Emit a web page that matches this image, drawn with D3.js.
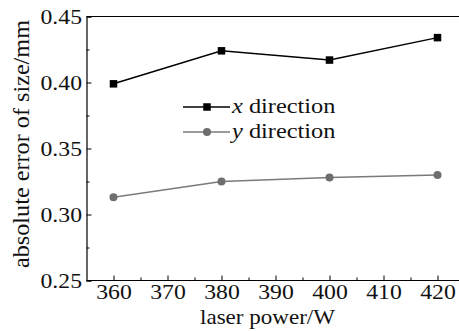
<!DOCTYPE html>
<html><head><meta charset="utf-8">
<script src="https://cdn.jsdelivr.net/npm/d3@7"></script>
<style>body{margin:0;background:#fff}</style>
</head><body><svg id="c" width="459" height="331" font-family="Liberation Serif"></svg>
<script>
const power = [360, 380, 400, 420];
const xDir = [0.399, 0.424, 0.417, 0.434];
const yDir = [0.313, 0.325, 0.328, 0.330];
const xTicks = [360, 370, 380, 390, 400, 410, 420];
const yTicks = [0.25, 0.30, 0.35, 0.40, 0.45];
const seriesNames = ["x", "y"];

const FF = "Liberation Serif";
const SX = 1.13;
const svg = d3.select("#c");
const L = 86.5, T = 16.5, B = 280.5;
const x = d3.scaleLinear().domain([355, 425]).range([L, L + 70 * 5.4]);
const y = d3.scaleLinear().domain([0.25, 0.45]).range([B, T]);

svg.append("line").attr("x1", L).attr("x2", 459).attr("y1", T).attr("y2", T).attr("stroke", "#000").attr("stroke-width", 1.2);

const xAxis = svg.append("g").attr("transform", `translate(0,${B})`)
  .call(d3.axisBottom(x).tickValues(xTicks).tickSize(-5).tickPadding(4).tickFormat(d3.format("d")));
xAxis.attr("font-family", FF).attr("font-size", 21);
xAxis.select(".domain").attr("d", `M${L},0H459`).attr("stroke-width", 1.2);
xAxis.selectAll("text").attr("font-family", FF).attr("font-size", 21).attr("fill", "#111")
  .attr("transform", `scale(${SX},1)`);
svg.append("g").attr("transform", `translate(0,${B})`)
  .call(d3.axisBottom(x).tickValues(d3.range(365, 425, 10)).tickSize(-3).tickFormat(""))
  .select(".domain").remove();

const yAxis = svg.append("g").attr("transform", `translate(${L},0)`)
  .call(d3.axisLeft(y).tickValues(yTicks).tickSize(-5).tickPadding(4).tickFormat(d3.format(".2f")));
yAxis.attr("font-family", FF).attr("font-size", 21);
yAxis.select(".domain").attr("stroke-width", 1.2);
yAxis.selectAll("text").attr("font-family", FF).attr("font-size", 21).attr("fill", "#111")
  .attr("x", -4.5 / SX).attr("transform", `scale(${SX},1)`);
svg.append("g").attr("transform", `translate(${L},0)`)
  .call(d3.axisLeft(y).tickValues([0.275, 0.325, 0.375, 0.425]).tickSize(-3).tickFormat(""))
  .select(".domain").remove();

svg.append("text").attr("x", 200).attr("y", 324)
  .attr("font-family", FF).attr("font-size", 22).attr("fill", "#111")
  .attr("textLength", 135).attr("lengthAdjust", "spacingAndGlyphs").text("laser power/W");
svg.append("text").attr("transform", "translate(29,268) rotate(-90)")
  .attr("font-family", FF).attr("font-size", 23).attr("fill", "#111")
  .attr("textLength", 248).attr("lengthAdjust", "spacingAndGlyphs").text("absolute error of size/mm");

const line = d3.line().x((d, i) => x(power[i])).y(d => y(d));
const colors = ["#000", "#7a7a7a"];
svg.append("path").datum(yDir).attr("d", line).attr("fill", "none").attr("stroke", colors[1]).attr("stroke-width", 1.5);
svg.selectAll(".cy").data(yDir).join("circle").attr("cx", (d, i) => x(power[i])).attr("cy", d => y(d)).attr("r", 4).attr("fill", "#6e6e6e");
svg.append("path").datum(xDir).attr("d", line).attr("fill", "none").attr("stroke", colors[0]).attr("stroke-width", 1.5);
svg.selectAll(".sx").data(xDir).join("rect").attr("x", (d, i) => x(power[i]) - 3.75).attr("y", d => y(d) - 3.75)
  .attr("width", 7.5).attr("height", 7.5).attr("fill", "#000");

const lg = [{name: seriesNames[0], yy: 107}, {name: seriesNames[1], yy: 132}];
lg.forEach((d, i) => {
  svg.append("line").attr("x1", 183).attr("x2", 230).attr("y1", d.yy).attr("y2", d.yy).attr("stroke", colors[i]).attr("stroke-width", 1.5);
  if (i === 0) svg.append("rect").attr("x", 207 - 3.75).attr("y", d.yy - 3.75).attr("width", 7.5).attr("height", 7.5).attr("fill", "#000");
  else svg.append("circle").attr("cx", 207).attr("cy", d.yy).attr("r", 4).attr("fill", "#6e6e6e");
  const t = svg.append("text").attr("transform", `translate(232,${d.yy + 5.5}) scale(${SX + 0.03},1)`)
    .attr("font-family", FF).attr("font-size", 21).attr("fill", "#111");
  t.append("tspan").attr("font-style", "italic").text(d.name);
  t.append("tspan").text(" direction");
});
</script></body></html>
